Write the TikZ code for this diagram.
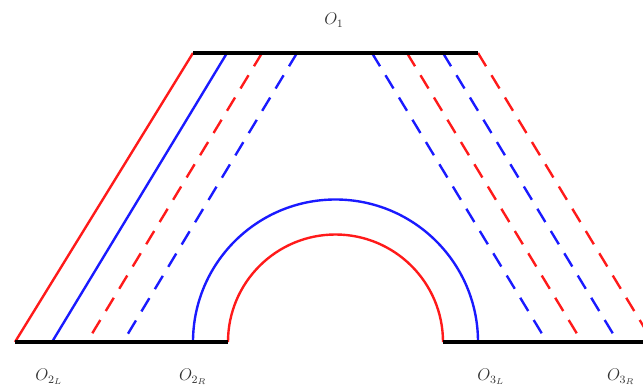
\documentclass[tikz,border=0pt]{standalone}
\usepackage{amsmath}
\usetikzlibrary{positioning,calc}
\definecolor{linered}{HTML}{FF1A1A}
\definecolor{lineblue}{HTML}{1A1AFF}
\definecolor{labgray}{HTML}{333333}

\begin{document}
\begin{tikzpicture}[
    x=0.025cm, y=0.025cm,
    edge/.style={line width=2.8pt, color=black},
    redline/.style={line width=1.7pt, color=linered},
    blueline/.style={line width=1.7pt, color=lineblue},
    dashline/.style={dash pattern=on 11pt off 7.5pt},
    lab/.style={font=\large, text=labgray},
]

% Frame: same size as the reference
\useasboundingbox (0,0) rectangle (643,390);
\clip (0,0) rectangle (643,390);

% Black edges: top and the two bottom pieces
\coordinate (topL) at (193,337);
\coordinate (topR) at (478,337);
\coordinate (botLL) at (15,48);
\coordinate (botLR) at (228,48);
\coordinate (botRL) at (443,48);
\coordinate (botRR) at (660,48);

% Half rings, centred between the bottom pieces
\coordinate (ctr) at (335.5,48);
\draw[blueline] (193,48) arc[start angle=180, end angle=0, radius=142.5];
\draw[redline] (botLR) arc[start angle=180, end angle=0, radius=107.5];

% Left slanted lines
\draw[redline] (botLL) -- (topL);
\coordinate (l2b) at (52,48);   \coordinate (l2t) at (227,337);
\coordinate (l3b) at (87,48);   \coordinate (l3t) at (262,337);
\coordinate (l4b) at (123,48);  \coordinate (l4t) at (297,337);
\draw[blueline] (l2b) -- (l2t);
\draw[redline, dashline] (l3t) -- (l3b);
\draw[blueline, dashline] (l4t) -- (l4b);

% Right slanted lines, all dashed
\foreach \xt/\xb/\col [count=\i] in {372/547/blueline, 407/582/redline,
                                     443/618/blueline, 478/653/redline}{
    \coordinate (r\i t) at (\xt,337);
    \coordinate (r\i b) at (\xb,48);
    \draw[\col, dashline] (r\i t) -- (r\i b);
}

% Black edges on top of the line ends
\draw[edge] (topL) -- (topR);
\draw[edge] (botLL) -- (botLR);
\draw[edge] (botRL) -- (botRR);

% Labels
\node[lab] (o1) at (334,370) {$O_1$};
\node[lab] (o2l) at (49,13) {$O_{2_L}$};
\node[lab] (o2r) at (193,13) {$O_{2_R}$};
\node[lab] (o3l) at (491,13) {$O_{3_L}$};
\node[lab] (o3r) at (621,13) {$O_{3_R}$};

\end{tikzpicture}
\end{document}
